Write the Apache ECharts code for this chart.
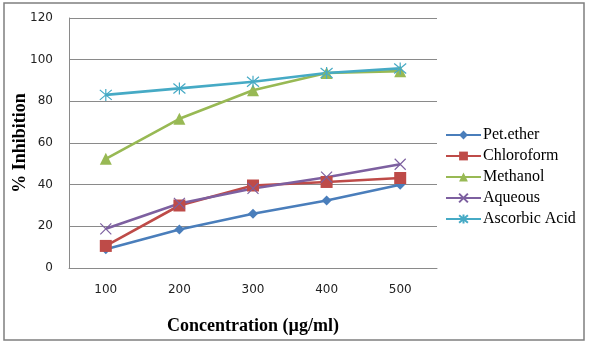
<!DOCTYPE html>
<html>
<head>
<meta charset="utf-8">
<style>
  html, body { margin: 0; padding: 0; background: #ffffff; }
  #chart { width: 591px; height: 346px; }
</style>
<script src="https://cdn.jsdelivr.net/npm/echarts@6/dist/echarts.min.js"></script>
</head>
<body>
<div id="chart"></div>
<script>
// Concentrations tested (µg/ml)
const concentrations = ['100', '200', '300', '400', '500'];

// % inhibition per extract
const petEther    = [9.0, 18.5, 26.0, 32.4, 40.0];
const chloroform  = [10.6, 30.0, 39.6, 41.3, 43.2];
const methanol    = [52.4, 71.6, 85.3, 93.6, 94.5];
const aqueous     = [18.8, 31.0, 38.2, 43.6, 49.8];
const ascorbicAcid = [83.1, 86.2, 89.4, 93.6, 95.8];

const seriesNames = ['Pet.ether', 'Chloroform', 'Methanol', 'Aqueous', 'Ascorbic Acid'];
const yTicks = { min: 0, max: 120, step: 20 };

const colors = ['#4a7ebb', '#be4b48', '#98b954', '#7d60a0', '#46aac5'];
const crossPath = 'path://M0,0L10,10M10,0L0,10';
const starPath = 'path://M0,0L10,10M10,0L0,10M5,-1L5,11';

const chart = echarts.init(document.getElementById('chart'), null, { renderer: 'canvas' });

function lineSeries(name, data, color, symbol, size, stroked) {
  return {
    name: name,
    type: 'line',
    data: data,
    symbol: symbol,
    symbolSize: size,
    showAllSymbol: true,
    lineStyle: { color: color, width: 2.6 },
    itemStyle: stroked
      ? { color: 'rgba(0,0,0,0)', borderColor: color, borderWidth: 1.2 }
      : { color: color },
    emphasis: { disabled: true },
    animation: false,
    z: 3
  };
}

const axisFont = { fontFamily: 'DejaVu Sans', fontSize: 12, color: '#222' };

chart.setOption({
  backgroundColor: '#ffffff',
  animation: false,
  grid: { left: 69, top: 18, width: 368, height: 250, containLabel: false, outerBoundsMode: 'none' },
  legend: {
    orient: 'vertical',
    left: 440,
    top: 122,
    itemWidth: 35,
    itemHeight: 11,
    itemGap: 5,
    data: seriesNames,
    textStyle: { fontFamily: 'Liberation Serif', fontSize: 16, color: '#000', padding: [0, 0, 0, -3] }
  },
  xAxis: {
    type: 'category',
    data: concentrations,
    boundaryGap: true,
    axisLine: { lineStyle: { color: '#8a8a8a', width: 1 } },
    axisTick: { show: false },
    axisLabel: Object.assign({ margin: 16 }, axisFont),
    name: 'Concentration (µg/ml)',
    nameLocation: 'middle',
    nameGap: 49,
    nameMoveOverlap: false,
    nameTextStyle: { fontFamily: 'Liberation Serif', fontWeight: 'bold', fontSize: 18, color: '#000' }
  },
  yAxis: {
    type: 'value',
    min: yTicks.min,
    max: yTicks.max,
    interval: yTicks.step,
    axisLine: { show: true, lineStyle: { color: '#8a8a8a', width: 1 } },
    axisTick: { show: false },
    splitLine: { lineStyle: { color: '#8a8a8a', width: 1 } },
    axisLabel: Object.assign({ margin: 16 }, axisFont),
    name: '% Inhibition',
    nameLocation: 'middle',
    nameGap: 40,
    nameMoveOverlap: false,
    nameRotate: 90,
    nameTextStyle: { fontFamily: 'Liberation Serif', fontWeight: 'bold', fontSize: 18, color: '#000' }
  },
  graphic: [{
    type: 'rect',
    shape: { x: 4, y: 3, width: 580, height: 337 },
    style: { fill: 'none', stroke: '#7f7f7f', lineWidth: 1.5 },
    silent: true,
    z: -1
  }],
  series: [
    lineSeries(seriesNames[0], petEther, colors[0], 'diamond', 10, false),
    lineSeries(seriesNames[1], chloroform, colors[1], 'rect', 12, false),
    lineSeries(seriesNames[2], methanol, colors[2], 'triangle', 12, false),
    lineSeries(seriesNames[3], aqueous, colors[3], crossPath, 11, true),
    lineSeries(seriesNames[4], ascorbicAcid, colors[4], starPath, 12, true)
  ]
});
</script>
</body>
</html>
